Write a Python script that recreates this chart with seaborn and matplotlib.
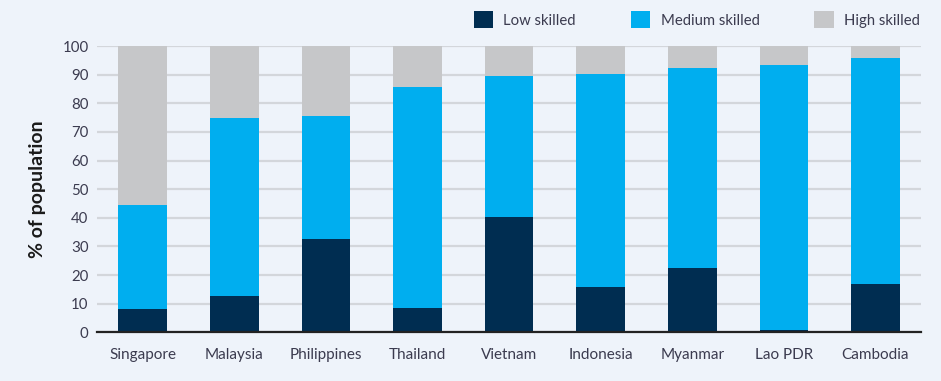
import pandas as pd
import matplotlib
matplotlib.use("Agg")
import matplotlib.pyplot as plt
import seaborn as sns
from matplotlib.patches import Patch

# values (% of population)
countries = ["Singapore", "Malaysia", "Philippines", "Thailand", "Vietnam",
             "Indonesia", "Myanmar", "Lao PDR", "Cambodia"]
low_skilled = [8.0, 12.6, 32.6, 8.5, 40.3, 15.7, 22.5, 0.7, 16.8]
medium_skilled = [36.5, 62.2, 42.9, 77.2, 49.4, 74.6, 69.9, 92.7, 79.2]
high_skilled = [55.5, 25.2, 24.5, 14.3, 10.3, 9.7, 7.6, 6.6, 4.0]

series_names = ["Low skilled", "Medium skilled", "High skilled"]
colors = ["#002D51", "#00AEEF", "#C6C7C9"]
bg = "#EEF3FA"

df = pd.DataFrame({"country": countries, "low": low_skilled,
                   "medium": medium_skilled, "high": high_skilled})
# cumulative tops so the stacks can be drawn as overlapping bars
df["top_low"] = df["low"]
df["top_medium"] = df["low"] + df["medium"]
df["top_high"] = df["top_medium"] + df["high"]

sns.set_style("white")
plt.rcParams["font.family"] = ["Lato", "DejaVu Sans"]

fig, ax = plt.subplots(figsize=(9.41, 3.81), dpi=100)
fig.patch.set_facecolor(bg)
ax.set_facecolor(bg)

for col, c in zip(["top_high", "top_medium", "top_low"], colors[::-1]):
    sns.barplot(data=df, x="country", y=col, color=c, width=0.53,
                saturation=1, ax=ax, zorder=3, linewidth=0)

ax.set_ylim(0, 100)
ax.set_xlim(-0.5, len(countries) - 0.5)
ax.set_yticks(range(0, 101, 10))
ax.yaxis.grid(True, color="#D3D6DB", linewidth=1.6, zorder=0)
ax.set_axisbelow(True)
for s in ["left", "right", "top"]:
    ax.spines[s].set_visible(False)
ax.spines["bottom"].set_color("#222222")
ax.spines["bottom"].set_linewidth(1.6)
ax.spines["bottom"].set_zorder(5)
ax.tick_params(axis="x", length=0, labelsize=11, colors="#3B3B4F", pad=11)
ax.tick_params(axis="y", length=0, labelsize=10.8, colors="#3B3B4F", pad=6)

ax.set_xlabel("")
ax.set_ylabel("% of population", fontsize=14, fontweight="bold", color="#1A1A1A", labelpad=12)

handles = [Patch(facecolor=c, edgecolor="none") for c in colors]
fig.legend(handles, series_names, loc="upper right", bbox_to_anchor=(0.992, 1.005),
           ncol=3, frameon=False, fontsize=10.7, handlelength=1.3, handleheight=1.3,
           columnspacing=3.7, handletextpad=0.7, labelcolor="#3B3B4F")

fig.subplots_adjust(left=0.103, right=0.979, top=0.879, bottom=0.128)
fig.savefig("out.png", dpi=100, facecolor=bg)
